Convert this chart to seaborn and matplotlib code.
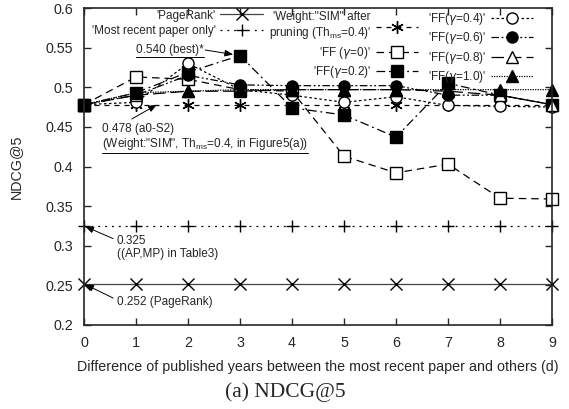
import numpy as np
import pandas as pd
import matplotlib
matplotlib.use("Agg")
import matplotlib.pyplot as plt
from matplotlib.lines import Line2D
import seaborn as sns

# data
d = list(range(10))
pagerank = [0.252] * 10
most_recent = [0.325] * 10
sim_pruned = [0.478] * 10
ff_00 = [0.478, 0.513, 0.510, 0.497, 0.495, 0.413, 0.392, 0.403, 0.360, 0.359]
ff_02 = [0.478, 0.493, 0.519, 0.540, 0.474, 0.465, 0.437, 0.505, 0.490, 0.478]
ff_04 = [0.478, 0.481, 0.530, 0.497, 0.490, 0.481, 0.488, 0.477, 0.476, 0.475]
ff_06 = [0.478, 0.490, 0.515, 0.503, 0.502, 0.502, 0.502, 0.490, 0.490, 0.478]
ff_08 = [0.478, 0.490, 0.495, 0.495, 0.497, 0.497, 0.497, 0.495, 0.490, 0.478]
ff_10 = [0.478, 0.493, 0.495, 0.497, 0.497, 0.497, 0.497, 0.497, 0.497, 0.497]

sns.set_style("ticks")
plt.rcParams['font.family'] = ['Liberation Sans', 'DejaVu Sans']
plt.rcParams['mathtext.fontset'] = 'custom'
plt.rcParams['mathtext.rm'] = 'Liberation Sans'

fig = plt.figure(figsize=(5.69, 4.09), dpi=100)
ax = fig.add_axes([84 / 569, 84 / 409, 468 / 569, 317 / 409])

series = [
    ("'PageRank'", pagerank, dict(marker='x', ms=8, mfc='none', ls='-', color='#444444')),
    ("'Most recent paper only'", most_recent, dict(marker='+', ms=9, ls=(0, (1.5, 4)), color='black')),
    ("'Weight:\"SIM\" after\npruning (Th$_{\\rm ms}$=0.4)'", sim_pruned,
     dict(marker=(6, 2, 0), ms=9, ls=(0, (4, 4)), color='black')),
    ("'FF ($\\gamma$=0)'", ff_00, dict(marker='s', ms=8, mfc='white', ls=(0, (6, 4)), color='black')),
    ("'FF($\\gamma$=0.2)'", ff_02, dict(marker='s', ms=8, mfc='black', ls=(0, (7, 3, 1.5, 3)), color='black')),
    ("'FF($\\gamma$=0.4)'", ff_04, dict(marker='o', ms=8, mfc='white', ls=(0, (2, 2)), color='black')),
    ("'FF($\\gamma$=0.6)'", ff_06, dict(marker='o', ms=8, mfc='black', ls=(0, (6, 2, 1.5, 2, 1.5, 2)), color='black')),
    ("'FF($\\gamma$=0.8)'", ff_08, dict(marker='^', ms=8, mfc='white', ls=(0, (10, 4)), color='black')),
    ("'FF($\\gamma$=1.0)'", ff_10, dict(marker='^', ms=8, mfc='black', ls=(0, (1, 1)), color='black')),
]

handles = []
for label, vals, kw in series:
    sns.lineplot(x=d, y=vals, ax=ax, lw=0.9, mew=1.0, mec='black', clip_on=False, **kw)
    handles.append(Line2D([], [], lw=0.9, mew=1.0, mec='black', **kw))
if ax.get_legend():
    ax.get_legend().remove()

ax.set_xlim(0, 9)
ax.set_ylim(0.2, 0.6)
ax.set_xticks(d)
ax.set_yticks(np.arange(0.2, 0.601, 0.05))
ax.set_yticklabels(['0.2', '0.25', '0.3', '0.35', '0.4', '0.45', '0.5', '0.55', '0.6'])
ax.tick_params(direction='in', top=True, right=True, labelsize=10.3, length=5, width=1)
ax.tick_params(axis='x', pad=8)
ax.tick_params(axis='y', pad=8)
for s in ax.spines.values():
    s.set_linewidth(1.2)
ax.set_xlabel("Difference of published years between the most recent paper and others (d)",
              fontsize=10.3, labelpad=7)
ax.set_ylabel("NDCG@5", fontsize=10.3, labelpad=16)

leg_kw = dict(frameon=False, markerfirst=False, fontsize=8.5, handlelength=3.6, handletextpad=0.4,
              labelspacing=0.28, borderpad=0, borderaxespad=0)
leg1 = ax.legend(handles[0:2], [s[0] for s in series[0:2]], loc='upper right',
                 bbox_to_anchor=(0.382, 0.995), **leg_kw)
ax.add_artist(leg1)
leg2 = ax.legend(handles[2:5], [s[0] for s in series[2:5]], loc='upper right',
                 bbox_to_anchor=(0.714, 0.99), **leg_kw)
ax.add_artist(leg2)
leg3 = ax.legend(handles[5:9], [s[0] for s in series[5:9]], loc='upper right',
                 bbox_to_anchor=(0.96, 0.99), **leg_kw)
for t in leg2.get_texts():
    t.set_multialignment('right')

# annotations
arrow = dict(arrowstyle='-|>,head_length=0.5,head_width=0.2', color='black', lw=0.7, shrinkA=0, shrinkB=5)
t1 = ax.text(1.0, 0.547, "0.540 (best)*", fontsize=8.5, va='center', ha='left')
ax.annotate('', xy=(3, 0.540), xytext=(2.33, 0.547), arrowprops=arrow)

t2 = ax.text(0.35, 0.455, "0.478 (a0-S2)\n(Weight:\"SIM\", Th$_{\\rm ms}$=0.4, in Figure5(a))",
             fontsize=8.5, va='top', ha='left', linespacing=1.1)
ax.annotate('', xy=(1.4, 0.478), xytext=(0.92, 0.460), arrowprops=dict(arrow, shrinkB=0))

ax.text(0.63, 0.313, "0.325\n((AP,MP) in Table3)", fontsize=8.5, va='top', ha='left', linespacing=1.1)
ax.annotate('', xy=(0, 0.325), xytext=(0.56, 0.309), arrowprops=dict(arrow, shrinkB=1))

ax.text(0.63, 0.229, "0.252 (PageRank)", fontsize=8.5, va='center', ha='left')
ax.annotate('', xy=(0, 0.252), xytext=(0.56, 0.234), arrowprops=dict(arrow, shrinkB=1))

fig.text(0.501, 0.042, "(a) NDCG@5", fontsize=15.5, family='Liberation Serif', ha='center', va='center')

# underline the two labelled values
fig.canvas.draw()
r = fig.canvas.get_renderer()
inv = fig.transFigure.inverted()
for t in (t1, t2):
    bb = t.get_window_extent(r)
    (x0, y0), (x1, _) = inv.transform([[bb.x0, bb.y0 - 0.5], [bb.x1, bb.y0]])
    fig.add_artist(Line2D([x0, x1], [y0, y0], color='black', lw=0.7))

fig.savefig("out.png", dpi=100)
